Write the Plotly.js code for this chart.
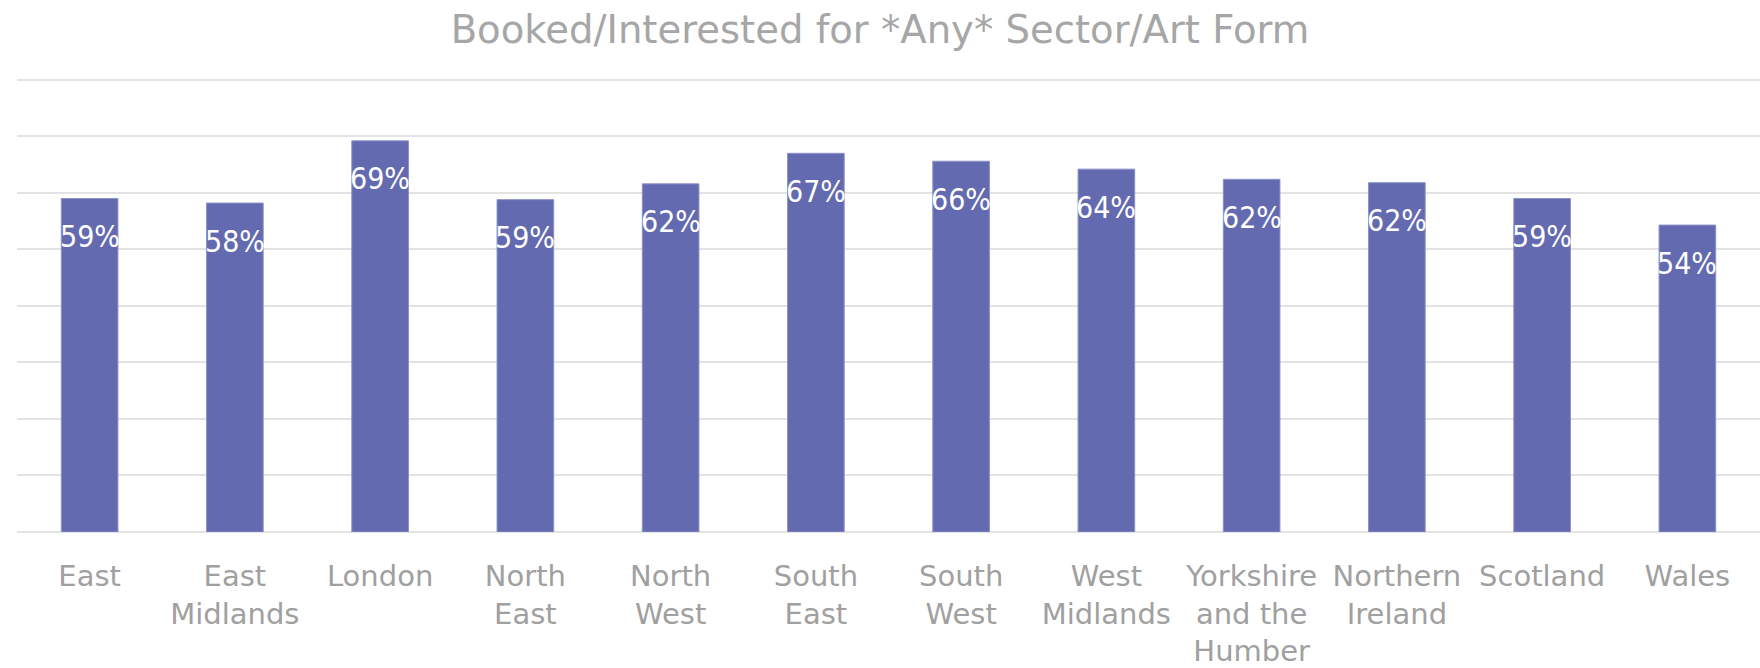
<!DOCTYPE html>
<html><head><meta charset="utf-8">
<script src="https://cdn.plot.ly/plotly-3.0.1.min.js"></script>
<style>html,body{margin:0;padding:0;background:#fff}#chart{width:1760px;height:668px}</style>
</head><body><div id="chart"></div>
<script>
const categories = ["East","East<br>Midlands","London","North<br>East","North<br>West","South<br>East","South<br>West","West<br>Midlands","Yorkshire<br>and the<br>Humber","Northern<br>Ireland","Scotland","Wales"];
const values = [0.590, 0.582, 0.692, 0.588, 0.616, 0.670, 0.656, 0.642, 0.624, 0.618, 0.590, 0.543];
const FONT = "DejaVu Sans, sans-serif";
const LABEL_FONT = "DejaVu Sans Condensed, DejaVu Sans, sans-serif";

const trace = {
  type: 'bar', x: categories, y: values,
  marker: {color: '#636aaf', line: {color: '#8c91c8', width: 1}},
  width: 0.39,
  hoverinfo: 'none'
};
const annotations = categories.map((c, i) => ({
  x: c, y: values[i], xref: 'x', yref: 'y',
  text: Math.round(values[i] * 100) + '%',
  showarrow: false, yanchor: 'middle', xanchor: 'center', yshift: -38,
  font: {family: LABEL_FONT, size: 30, color: '#ffffff'}
}));
const layout = {
  width: 1760, height: 668,
  margin: {l: 17, r: 0, t: 77, b: 136},
  paper_bgcolor: '#ffffff', plot_bgcolor: '#ffffff',
  title: {text: 'Booked/Interested for *Any* Sector/Art Form', font: {family: FONT, size: 38.6, color: '#a6a6a6'}, x: 0.5, xanchor: 'center', yref: 'container', y: 0.956, yanchor: 'middle'},
  xaxis: {tickfont: {family: FONT, size: 29, color: '#a0a0a0'}, showgrid: false, zeroline: false, showline: false, ticks: '', tickangle: 0, automargin: false, ticklabelstandoff: 24},
  yaxis: {range: [0, 0.805], dtick: 0.1, showticklabels: false, showgrid: true, gridcolor: '#e3e3e3', gridwidth: 2, zeroline: true, zerolinecolor: '#e3e3e3', zerolinewidth: 2, fixedrange: true},
  annotations: annotations,
  showlegend: false, bargap: 0.6
};
Plotly.newPlot('chart', [trace], layout, {displayModeBar: false, staticPlot: true});
</script></body></html>
